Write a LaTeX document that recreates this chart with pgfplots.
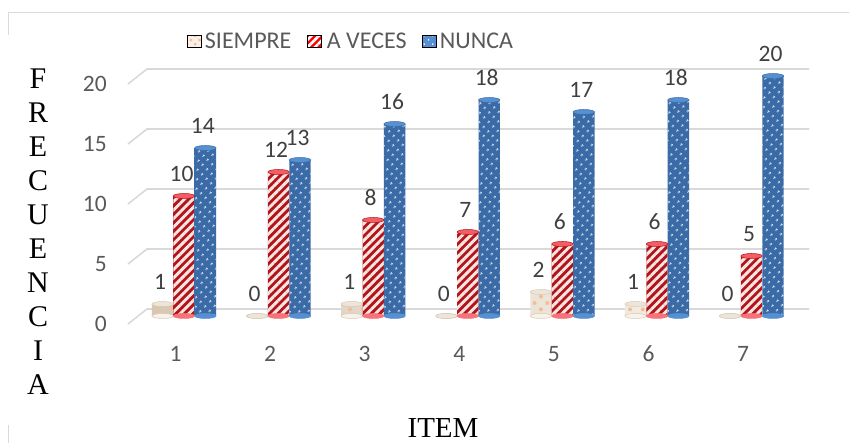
\documentclass[border=0pt]{standalone}
\usepackage{pgfplots}
\pgfplotsset{compat=1.18}
\usepackage{pgfplotstable}
\usepackage{fontspec}
\setmainfont{Carlito}
\newfontfamily\titlefont{Liberation Serif}
\usetikzlibrary{patterns.meta}
\definecolor{gridgray}{HTML}{D9D9D9}
\definecolor{labelgray}{HTML}{595959}
\definecolor{valuegray}{HTML}{404040}
\definecolor{sedge}{HTML}{D6C8B6}
\definecolor{smid}{HTML}{F8F2EA}
\definecolor{sdot}{HTML}{F2BE96}
\definecolor{vedge}{HTML}{B0151C}
\definecolor{vmid}{HTML}{F01820}
\definecolor{vstripe}{HTML}{FBE6E2}
\definecolor{nedge}{HTML}{3A6BA6}
\definecolor{nmid}{HTML}{5690D2}
\definecolor{ndot}{HTML}{EAF3FC}

% Frequency per item: SIEMPRE, A VECES, NUNCA
\pgfplotstableread{
item s v n
1 1 10 14
2 0 12 13
3 1 8 16
4 0 7 18
5 2 6 17
6 1 6 18
7 0 5 20
}\freq

% Elliptical end of a cylindrical column
\pgfdeclareplotmark{cap}{%
  \pgfpathellipse{\pgfpointorigin}{\pgfpoint{10.7pt}{0pt}}{\pgfpoint{0pt}{2.5pt}}%
  \pgfusepathqfillstroke}

\pgfplotsset{
  wallline/.style={gridgray, line width=1.6pt, forget plot, no marks},
  column/.style={ybar, bar width=21.4pt, draw=none, forget plot},
  capmark/.style={only marks, mark=cap, forget plot, line width=0.5pt},
  valuelabel/.style={draw=none, mark=none, forget plot, nodes near coords,
    every node near coord/.style={font=\fontsize{23.5}{24}\selectfont,
      text=valuegray, anchor=base, inner sep=0pt, yshift=14pt, xshift=-2.5pt}},
}

\begin{document}
\begin{tikzpicture}[x=1pt,y=1pt]
\useasboundingbox (0,0) rectangle (849,443);
% Remains of the outer frame
\draw[gridgray, line width=1pt] (849,430) -- (8.5,430) -- (8.5,408);
\draw[gridgray, line width=1pt] (8.5,18) -- (8.5,0);
\begin{axis}[
  at={(0pt,127pt)}, anchor=south west,
  x=94.6pt, y=12pt,
  scale only axis,
  xmin=-0.945, xmax=8.03,
  ymin=0, ymax=20,
  clip=false,
  axis line style={draw=none},
  tick style={draw=none},
  xtick={1,...,7},
  ytick={0,5,...,20},
  /pgf/number format/assume math mode=true,
  xticklabel style={font=\fontsize{23.5}{24}\selectfont, text=labelgray, anchor=base, inner sep=0pt, xshift=-8.5pt, yshift=-46pt},
  yticklabel style={font=\fontsize{23.5}{24}\selectfont, text=labelgray, anchor=base east, inner sep=0pt, xshift=107pt, yshift=-16pt},
  xlabel={ITEM},
  xlabel style={font=\titlefont\fontsize{29}{30}\selectfont, text=black, at={(axis description cs:0.5218,-0.467)}, anchor=center, inner sep=0pt},
  ylabel={F\\R\\E\\C\\U\\E\\N\\C\\I\\A},
  ylabel style={font=\titlefont\fontsize{30}{34}\selectfont, text=black, align=center, rotate=-90, at={(axis description cs:0.0448,0.35)}, anchor=center, inner sep=0pt},
  legend style={at={(axis description cs:0.412,1.1457)}, anchor=center, draw=none, fill=none,
    legend columns=3, font=\fontsize{24}{25}\selectfont, text=labelgray,
    /tikz/every odd column/.append style={column sep=4pt},
    /tikz/every even column/.append style={column sep=15pt},
    inner sep=0pt, outer sep=0pt, nodes={inner sep=0pt}},
]
% Wall grid: back line and short receding stroke at the left
\addplot[wallline] coordinates {(0.408,-0.667) (0.609,0.583) (7.607,0.583)};
\addplot[wallline] coordinates {(0.408,4.333) (0.609,5.583) (7.607,5.583)};
\addplot[wallline] coordinates {(0.408,9.333) (0.609,10.583) (7.607,10.583)};
\addplot[wallline] coordinates {(0.408,14.333) (0.609,15.583) (7.607,15.583)};
\addplot[wallline] coordinates {(0.408,19.333) (0.609,20.583) (7.607,20.583)};

% SIEMPRE columns: shaded body, then its surface pattern
\addplot[capmark, mark options={fill=smid, draw=sedge}] table[x expr=\thisrow{item}-0.2262, y expr=0] {\freq};
\addplot[column, bar shift=-21.4pt, left color=sedge, middle color=smid, right color=smid] table[x=item, y=s] {\freq};
\addplot[column, bar shift=-21.4pt, pattern={Dots[radius=2pt, distance=9pt, angle=45]}, pattern color=sdot] table[x=item, y=s] {\freq};
\addplot[capmark, mark options={fill=smid!70!sedge, draw=sedge}] table[x expr=\thisrow{item}-0.2262, y=s] {\freq};

% A VECES columns
\addplot[capmark, mark options={fill=vmid!60!white, draw=vmid!60!white}] table[x=item, y expr=0] {\freq};
\addplot[column, bar shift=0pt, left color=vedge, middle color=vmid, right color=vedge] table[x=item, y=v] {\freq};
\addplot[column, bar shift=0pt, pattern={Lines[angle=45, distance=6pt, line width=2.9pt]}, pattern color=vstripe] table[x=item, y=v] {\freq};
\addplot[capmark, mark options={fill=vmid!70!white, draw=vedge}] table[x=item, y=v] {\freq};

% NUNCA columns
\addplot[capmark, mark options={fill=nmid, draw=nmid}] table[x expr=\thisrow{item}+0.2262, y expr=0] {\freq};
\addplot[column, bar shift=21.4pt, left color=nedge, middle color=nmid, right color=nedge] table[x=item, y=n] {\freq};
\addplot[column, bar shift=21.4pt, pattern={Dots[radius=1.3pt, distance=6.5pt, angle=45]}, pattern color=ndot] table[x=item, y=n] {\freq};
\addplot[capmark, mark options={fill=nmid, draw=nedge}] table[x expr=\thisrow{item}+0.2262, y=n] {\freq};

% Value labels
\addplot[valuelabel] table[x expr=\thisrow{item}-0.2262, y=s] {\freq};
\addplot[valuelabel] table[x=item, y=v] {\freq};
\addplot[valuelabel] table[x expr=\thisrow{item}+0.2262, y=n] {\freq};

% Legend entries
\addlegendimage{legend image code/.code={\path[fill=sdot!25!white, postaction={pattern={Dots[radius=1.6pt, distance=6pt, angle=45]}, pattern color=sdot}] (0pt,-6pt) rectangle (14pt,6pt);}}
\addlegendentry{SIEMPRE}
\addlegendimage{legend image code/.code={\path[fill=red, postaction={pattern={Lines[angle=45, distance=5.2pt, line width=2.5pt]}, pattern color=white}] (0pt,-6pt) rectangle (14pt,6pt);}}
\addlegendentry{A VECES}
\addlegendimage{legend image code/.code={\path[fill=nmid, postaction={pattern={Dots[radius=1pt, distance=6pt, angle=45]}, pattern color=ndot}] (0pt,-6pt) rectangle (14pt,6pt);}}
\addlegendentry{NUNCA}
\end{axis}
\end{tikzpicture}
\end{document}
